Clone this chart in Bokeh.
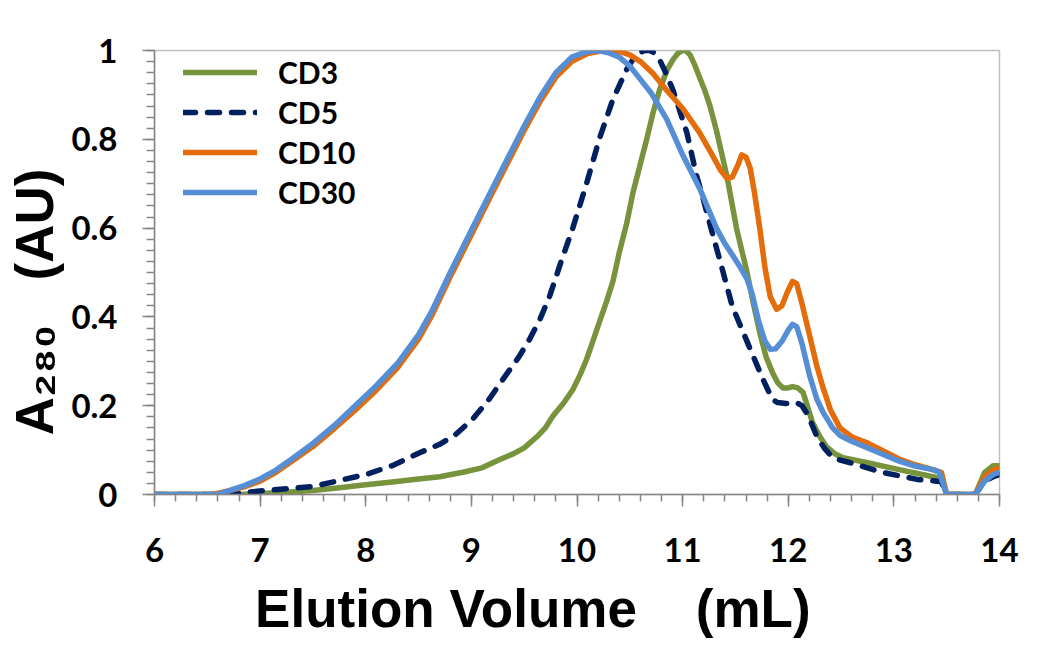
from bokeh.plotting import figure
from bokeh.models import Range1d, FixedTicker, Legend, LegendItem
from bokeh.embed import file_html
from bokeh.resources import INLINE

# ---- data ----
series_names = ["CD3", "CD5", "CD10", "CD30"]

cd3_x = [6.0, 6.8, 7.0, 7.25, 7.5, 7.75, 8.0, 8.25, 8.5, 8.7, 8.92, 9.1, 9.27, 9.4, 9.5, 9.62,
         9.7, 9.77, 9.87, 9.96, 10.03, 10.09, 10.15, 10.21, 10.28, 10.34, 10.4, 10.47, 10.53,
         10.6, 10.66, 10.72, 10.78, 10.85, 10.91, 10.96, 11.0, 11.03, 11.07, 11.11, 11.16,
         11.21, 11.26, 11.32, 11.42, 11.51, 11.56, 11.61, 11.67, 11.73, 11.79, 11.85, 11.9,
         11.95, 12.0, 12.04, 12.09, 12.14, 12.18, 12.23, 12.3, 12.36, 12.44, 12.52, 12.74,
         13.05, 13.37, 13.45, 13.5, 13.77, 13.86, 13.94, 14.0]
cd3_y = [0, 0, 0.002, 0.005, 0.009, 0.015, 0.022, 0.028, 0.035, 0.04, 0.05, 0.06, 0.079, 0.092,
         0.105, 0.13, 0.15, 0.176, 0.205, 0.236, 0.27, 0.304, 0.345, 0.387, 0.435, 0.48, 0.545,
         0.61, 0.68, 0.745, 0.80, 0.86, 0.91, 0.955, 0.98, 0.995, 1.0, 1.0, 0.99, 0.97, 0.94,
         0.91, 0.874, 0.82, 0.716, 0.60, 0.55, 0.50, 0.43, 0.365, 0.31, 0.275, 0.252, 0.24,
         0.24, 0.243, 0.24, 0.23, 0.2, 0.162, 0.13, 0.108, 0.092, 0.083, 0.072, 0.056, 0.04,
         0.035, 0.0, 0.0, 0.05, 0.065, 0.065]

cd5_x = [6.0, 6.7, 7.0, 7.5, 8.0, 8.25, 8.51, 8.7, 8.85, 9.01, 9.17, 9.33, 9.45, 9.55, 9.65,
         9.74, 9.85, 9.96, 10.09, 10.21, 10.34, 10.47, 10.53, 10.59, 10.64, 10.69, 10.73,
         10.78, 10.84, 10.91, 11.04, 11.13, 11.19, 11.28, 11.35, 11.47, 11.63, 11.76, 11.85,
         11.9, 11.98, 12.04, 12.08, 12.13, 12.17, 12.22, 12.27, 12.34, 12.42, 12.5, 12.58,
         12.89, 13.22, 13.41, 13.45, 13.5, 13.77, 13.86, 13.94, 14.0]
cd5_y = [0, 0, 0.008, 0.018, 0.045, 0.065, 0.094, 0.113, 0.135, 0.169, 0.215, 0.27, 0.31,
         0.349, 0.395, 0.446, 0.525, 0.60, 0.70, 0.80, 0.89, 0.957, 0.98, 0.995, 1.0, 1.0,
         0.995, 0.98, 0.95, 0.91, 0.815, 0.72, 0.67, 0.59, 0.53, 0.424, 0.333, 0.26, 0.214,
         0.207, 0.205, 0.207, 0.207, 0.2, 0.185, 0.16, 0.131, 0.105, 0.083, 0.077, 0.072,
         0.05, 0.034, 0.03, 0.028, 0, 0, 0.03, 0.04, 0.045]

cd10_x = [6.0, 6.55, 6.7, 6.85, 7.0, 7.15, 7.3, 7.5, 7.7, 7.9, 8.1, 8.3, 8.5, 8.63, 8.8, 9.0,
          9.2, 9.35, 9.5, 9.65, 9.8, 9.95, 10.1, 10.25, 10.4, 10.5, 10.6, 10.72, 10.85, 11.0,
          11.16, 11.28, 11.36, 11.42, 11.47, 11.52, 11.56, 11.6, 11.64, 11.68, 11.73, 11.78,
          11.83, 11.89, 11.94, 11.99, 12.04, 12.08, 12.13, 12.2, 12.27, 12.33, 12.4, 12.49,
          12.6, 12.74, 12.9, 13.05, 13.2, 13.37, 13.45, 13.5, 13.77, 13.86, 13.94, 14.0]
cd10_y = [0, 0, 0.008, 0.017, 0.03, 0.05, 0.075, 0.108, 0.148, 0.19, 0.235, 0.285, 0.35, 0.405,
          0.49, 0.585, 0.68, 0.75, 0.82, 0.885, 0.94, 0.975, 0.993, 1.0, 0.998, 0.99, 0.975,
          0.948, 0.91, 0.87, 0.815, 0.765, 0.73, 0.712, 0.715, 0.74, 0.765, 0.76, 0.735, 0.68,
          0.60, 0.51, 0.445, 0.417, 0.425, 0.455, 0.48, 0.475, 0.43, 0.36, 0.29, 0.24, 0.19,
          0.15, 0.13, 0.117, 0.098, 0.08, 0.067, 0.056, 0.05, 0, 0, 0.04, 0.055, 0.06]

cd30_x = [6.0, 6.6, 6.7, 6.85, 7.0, 7.15, 7.3, 7.5, 7.7, 7.9, 8.1, 8.3, 8.5, 8.63, 8.8, 9.0,
          9.2, 9.35, 9.5, 9.65, 9.8, 9.95, 10.1, 10.2, 10.3, 10.4, 10.5, 10.6, 10.7, 10.85,
          11.0, 11.16, 11.32, 11.4, 11.47, 11.55, 11.61, 11.66, 11.72, 11.78, 11.83, 11.88,
          11.94, 12.0, 12.04, 12.08, 12.13, 12.2, 12.27, 12.33, 12.42, 12.49, 12.6, 12.74,
          12.9, 13.05, 13.2, 13.37, 13.43, 13.5, 13.77, 13.86, 13.94, 14.0]
cd30_y = [0, 0, 0.008, 0.02, 0.035, 0.055, 0.08, 0.115, 0.155, 0.2, 0.245, 0.295, 0.36, 0.415,
          0.5, 0.595, 0.69, 0.76, 0.83, 0.895, 0.95, 0.985, 0.998, 1.0, 0.995, 0.985, 0.965,
          0.935, 0.905, 0.845, 0.765, 0.69, 0.60, 0.565, 0.54, 0.51, 0.485, 0.45, 0.39, 0.345,
          0.327, 0.328, 0.345, 0.37, 0.383, 0.378, 0.34, 0.27, 0.215, 0.185, 0.15, 0.133, 0.12,
          0.106, 0.09, 0.075, 0.064, 0.056, 0.05, 0, 0, 0.03, 0.045, 0.05]

x_ticks = [6, 7, 8, 9, 10, 11, 12, 13, 14]
y_ticks = [0, 0.2, 0.4, 0.6, 0.8, 1.0]
y_tick_labels = ["0", "0.2", "0.4", "0.6", "0.8", "1"]

colors = ["#77933C", "#002060", "#E46C0A", "#558ED5"]

NB = "\u00a0"
# trailing non-breaking spaces shift the centred titles like in the reference
x_title = "Elution Volume" + NB * 4 + "(mL)" + NB * 6
y_title = "A\u2082\u2088\u2080" + NB * 3 + "(AU)" + NB * 4

# ---- figure ----
p = figure(width=1034, height=640, output_backend="svg", toolbar_location=None,
           x_range=Range1d(6, 14), y_range=Range1d(0, 1),
           min_border_left=154, min_border_right=35, min_border_top=50, min_border_bottom=146)
p.background_fill_color = "white"
p.border_fill_color = "white"
p.outline_line_color = "#BFBFBF"
p.outline_line_width = 1.5
p.grid.visible = False

tick_font = "Lato"
for ax in (p.xaxis[0], p.yaxis[0]):
    ax.axis_line_color = "#868686"
    ax.axis_line_width = 1.5
    ax.major_tick_line_color = "#868686"
    ax.minor_tick_line_color = "#868686"
    ax.major_tick_line_width = 1.5
    ax.minor_tick_line_width = 1.5
    ax.major_tick_in = 0
    ax.major_tick_out = 12
    ax.minor_tick_in = 0
    ax.major_label_text_font = tick_font
    ax.major_label_text_font_style = "bold"
    ax.major_label_text_font_size = "33px"
    ax.major_label_text_color = "black"
    ax.axis_label_text_font = "Liberation Sans"
    ax.axis_label_text_font_style = "bold"
    ax.axis_label_text_font_size = "53px"
    ax.axis_label_text_color = "black"

p.xaxis[0].ticker = FixedTicker(ticks=x_ticks,
                                minor_ticks=[6 + 0.2 * i for i in range(41)])
p.xaxis[0].minor_tick_out = 7
p.xaxis[0].major_label_standoff = 31
p.xaxis[0].axis_label = x_title
p.xaxis[0].axis_label_standoff = 14

p.yaxis[0].ticker = FixedTicker(ticks=y_ticks,
                                minor_ticks=[0.025 * i for i in range(41)])
p.yaxis[0].minor_tick_out = 8
p.yaxis[0].major_label_overrides = {t: l for t, l in zip(y_ticks, y_tick_labels)}
p.yaxis[0].major_label_standoff = 25
p.yaxis[0].axis_label = y_title
p.yaxis[0].axis_label_standoff = 4

xs = [cd3_x, cd5_x, cd10_x, cd30_x]
ys = [cd3_y, cd5_y, cd10_y, cd30_y]
items = []
for name, x, y, c in zip(series_names, xs, ys, colors):
    dash = "12 12" if name == "CD5" else "solid"
    r = p.line(x, y, line_color=c, line_width=5.5, line_dash=dash,
               line_cap="round", line_join="round")
    items.append(LegendItem(label=name, renderers=[r]))

legend = Legend(items=items, location=(29, 284), orientation="vertical")
legend.padding = 7
legend.margin = 0
legend.spacing = 4
legend.glyph_width = 74
legend.glyph_height = 30
legend.label_standoff = 21
legend.label_text_font = tick_font
legend.label_text_font_style = "bold"
legend.label_text_font_size = "30px"
legend.label_text_color = "black"
legend.border_line_color = None
legend.background_fill_alpha = 0
p.add_layout(legend, "center")

open("out.html", "w").write(file_html(p, INLINE))
